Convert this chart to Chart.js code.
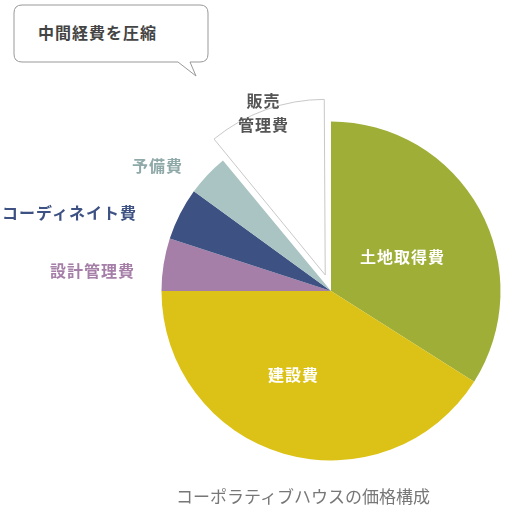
<!DOCTYPE html>
<html><head><meta charset="utf-8">
<script src="https://cdn.jsdelivr.net/npm/chart.js@4/dist/chart.umd.min.js"></script>
<style>
html,body{margin:0;padding:0;width:510px;height:510px;overflow:hidden;background:#fff;font-family:"Noto Sans CJK JP",sans-serif;}
#wrap{position:absolute;left:93px;top:53px;width:476px;height:476px;}
.lbl{position:absolute;font-weight:bold;font-size:16px;white-space:nowrap;letter-spacing:1px}
</style></head><body>
<svg style="position:absolute;left:0;top:0" width="510" height="510">
<path d="M22,5 H200 Q208,5 208,13 V54 Q208,62 200,62 H190 L196,76 L178,62 H22 Q14,62 14,54 V13 Q14,5 22,5 Z" fill="#fff" stroke="#999" stroke-width="1"/>
</svg>
<div class="lbl" style="left:38px;top:20px;color:#444">中間経費を圧縮</div>
<div id="wrap"><canvas id="c" width="476" height="476"></canvas></div>
<div class="lbl" style="left:238px;top:88px;color:#555;text-align:center;line-height:24px">販売<br>管理費</div>
<div class="lbl" style="left:132px;top:153px;color:#8fa9a8">予備費</div>
<div class="lbl" style="left:2px;top:200px;color:#3d5183">コーディネイト費</div>
<div class="lbl" style="left:50px;top:258px;color:#a57fa8">設計管理費</div>
<div class="lbl" style="left:360px;top:244px;color:#fff">土地取得費</div>
<div class="lbl" style="left:268px;top:362px;color:#fff">建設費</div>
<div style="position:absolute;left:176px;top:483px;font-size:17px;color:#777">コーポラティブハウスの価格構成</div>
<script>
const categories=["土地取得費","建設費","設計管理費","コーディネイト費","予備費","販売管理費"];
const values=[34,41,5,5,4,11];
const colors=["#9fae36","#dcc216","#a57fa8","#3d5183","#a9c4c2","#ffffff"];
new Chart(document.getElementById('c'),{type:'pie',
data:{labels:categories,datasets:[{data:values,backgroundColor:colors,clip:false,
borderColor:["#fff","#fff","#fff","#fff","#fff","#c8c8c8"],borderWidth:[0,0,0,0,0,1],
offset:[0,0,0,0,0,68]}]},
options:{responsive:false,animation:false,events:[],layout:{padding:34},
plugins:{legend:{display:false},tooltip:{enabled:false}}}});
</script></body></html>
